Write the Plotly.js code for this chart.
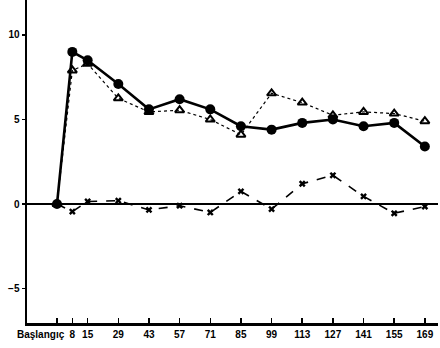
<!DOCTYPE html>
<html><head><meta charset="utf-8">
<script src="https://cdn.plot.ly/plotly-3.0.1.min.js"></script>
<style>html,body{margin:0;padding:0;background:#fff}</style>
</head><body><div id="c" style="width:440px;height:348px"></div>
<script>
const days = [1, 8, 15, 29, 43, 57, 71, 85, 99, 113, 127, 141, 155, 169];
const circleVals = [0, 9.0, 8.5, 7.1, 5.6, 6.2, 5.6, 4.6, 4.4, 4.8, 5.0, 4.6, 4.8, 3.4];
const triangleVals = [0, 7.9, 8.3, 6.25, 5.45, 5.55, 5.0, 4.1, 6.55, 6.0, 5.25, 5.45, 5.35, 4.9];
const crossVals = [0, -0.45, 0.15, 0.2, -0.35, -0.1, -0.5, 0.75, -0.3, 1.2, 1.7, 0.45, -0.55, -0.15];
const tickVals = [1, 8, 15, 29, 43, 57, 71, 85, 99, 113, 127, 141, 155, 169];
const tickText = ["", "8", "15", "29", "43", "57", "71", "85", "99", "113", "127", "141", "155", "169"];
const startLabel = "Başlangıç";

const tf = {family: "Liberation Sans, Arial, sans-serif", size: 10, color: "#000", weight: "bold"};

const traces = [
  {x: days, y: crossVals, mode: "lines+markers", line: {color: "#000", width: 1.6, dash: "dash"},
   marker: {symbol: "x", size: 6, color: "#000"}},
  {x: days, y: triangleVals, mode: "lines+markers", line: {color: "#000", width: 1.2, dash: "dot"},
   marker: {symbol: "triangle-up-open", size: 8, color: "#000", line: {width: 2, color: "#000"}}},
  {x: days, y: circleVals, mode: "lines+markers", line: {color: "#000", width: 2.6},
   marker: {symbol: "circle", size: 10, color: "#000"}}
];

const layout = {
  width: 440, height: 348,
  margin: {l: 27, r: 2, t: 0, b: 25},
  paper_bgcolor: "#fff", plot_bgcolor: "#fff",
  showlegend: false,
  xaxis: {range: [-12.7, 175], tickmode: "array", tickvals: tickVals, ticktext: tickText,
    ticks: "inside", ticklen: 5, tickwidth: 1.5, tickcolor: "#000",
    showgrid: false, zeroline: false, showline: true, linecolor: "#000", linewidth: 2.5,
    tickfont: tf},
  yaxis: {range: [-7.04, 12.07], tickmode: "array", tickvals: [10, 5, 0, -5], ticktext: ["10", "5", "0", "−5"],
    ticks: "outside", ticklen: 3, tickwidth: 1.5, tickcolor: "#000",
    showgrid: false, zeroline: true, zerolinecolor: "#000", zerolinewidth: 2.5,
    showline: true, linecolor: "#000", linewidth: 2.5, tickfont: tf},
  annotations: [{xref: "x", yref: "paper", x: 1, y: 0, xanchor: "right", yanchor: "top",
    xshift: 10, yshift: -4, text: startLabel, showarrow: false, font: tf}]
};

Plotly.newPlot("c", traces, layout, {staticPlot: true, displayModeBar: false});
</script></body></html>
